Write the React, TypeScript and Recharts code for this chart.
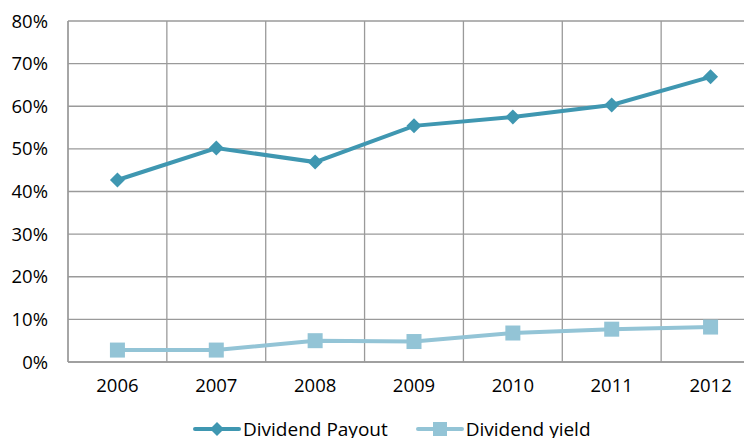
import { LineChart, Line, XAxis, YAxis, CartesianGrid, Legend } from 'recharts';

const YEARS = ['2006', '2007', '2008', '2009', '2010', '2011', '2012'];
const PAYOUT = [42.7, 50.2, 46.9, 55.4, 57.5, 60.3, 66.9]; // %
const YIELD = [2.8, 2.8, 5.0, 4.8, 6.8, 7.7, 8.2]; // %
const Y_TICKS = [0, 10, 20, 30, 40, 50, 60, 70, 80];

const PAYOUT_COLOR = '#3f97b1';
const YIELD_COLOR = '#93c4d6';
const GRID = '#9a9a9a';
const FONT = '"Open Sans", sans-serif';

const data = YEARS.map((year, i) => ({ year, payout: PAYOUT[i], yield: YIELD[i] }));

// diamond marker
const Diamond = (props: any) => {
  const { cx, cy } = props;
  if (cx == null || cy == null) return null;
  const r = 7.5;
  return (
    <path
      d={`M${cx},${cy - r} L${cx + r},${cy} L${cx},${cy + r} L${cx - r},${cy} Z`}
      fill={PAYOUT_COLOR}
    />
  );
};

const Square = (props: any) => {
  const { cx, cy } = props;
  if (cx == null || cy == null) return null;
  const s = 15;
  return <rect x={cx - s / 2} y={cy - s / 2} width={s} height={s} fill={YIELD_COLOR} />;
};

// excel-style gridlines sit between categories
const bandLines = ({ offset }: any) => {
  const step = offset.width / YEARS.length;
  return Array.from({ length: YEARS.length + 1 }, (_, i) => offset.left + i * step);
};

const LegendIcon = ({ color, kind }: { color: string; kind: 'diamond' | 'square' }) => (
  <svg width={48} height={16} style={{ marginRight: 2 }}>
    <line x1={2} y1={8} x2={46} y2={8} stroke={color} strokeWidth={4} strokeLinecap="round" />
    {kind === 'diamond' ? (
      <path d="M24,1 L31,8 L24,15 L17,8 Z" fill={color} />
    ) : (
      <rect x={17} y={1} width={14} height={14} fill={color} />
    )}
  </svg>
);

const renderLegend = () => (
  <div
    style={{
      display: 'flex',
      alignItems: 'center',
      fontFamily: FONT,
      fontSize: 19,
      color: '#000',
      paddingLeft: 193,
      paddingTop: 12,
      lineHeight: '22px',
    }}
  >
    <LegendIcon color={PAYOUT_COLOR} kind="diamond" />
    <span style={{ marginRight: 28 }}>Dividend Payout</span>
    <LegendIcon color={YIELD_COLOR} kind="square" />
    <span>Dividend yield</span>
  </div>
);

export default function App() {
  return (
    <div style={{ margin: -8, width: 752, height: 446, overflow: 'hidden', background: '#fff' }}>
      <LineChart
        width={772}
        height={446}
        data={data}
        margin={{ top: 21, right: 12, left: 0, bottom: 0 }}
      >
        <CartesianGrid stroke={GRID} strokeWidth={1.3} verticalCoordinatesGenerator={bandLines} />
        <XAxis
          dataKey="year"
          scale="band"
          stroke={GRID}
          strokeWidth={1.3}
          tickLine={false}
          tickSize={0}
          tickMargin={17}
          height={44}
          tick={{ fill: '#000', fontSize: 18.5, fontFamily: FONT }}
        />
        <YAxis
          domain={[0, 80]}
          ticks={Y_TICKS}
          tickFormatter={(v) => `${v}%`}
          stroke={GRID}
          strokeWidth={1.3}
          tickLine={false}
          tickSize={0}
          tickMargin={20}
          width={68}
          tick={{ fill: '#000', fontSize: 18.5, fontFamily: FONT }}
        />
        <Legend verticalAlign="bottom" height={40} content={renderLegend} />
        <Line
          dataKey="payout"
          stroke={PAYOUT_COLOR}
          strokeWidth={4}
          dot={<Diamond />}
          activeDot={false}
          isAnimationActive={false}
        />
        <Line
          dataKey="yield"
          stroke={YIELD_COLOR}
          strokeWidth={4}
          dot={<Square />}
          activeDot={false}
          isAnimationActive={false}
        />
      </LineChart>
    </div>
  );
}
